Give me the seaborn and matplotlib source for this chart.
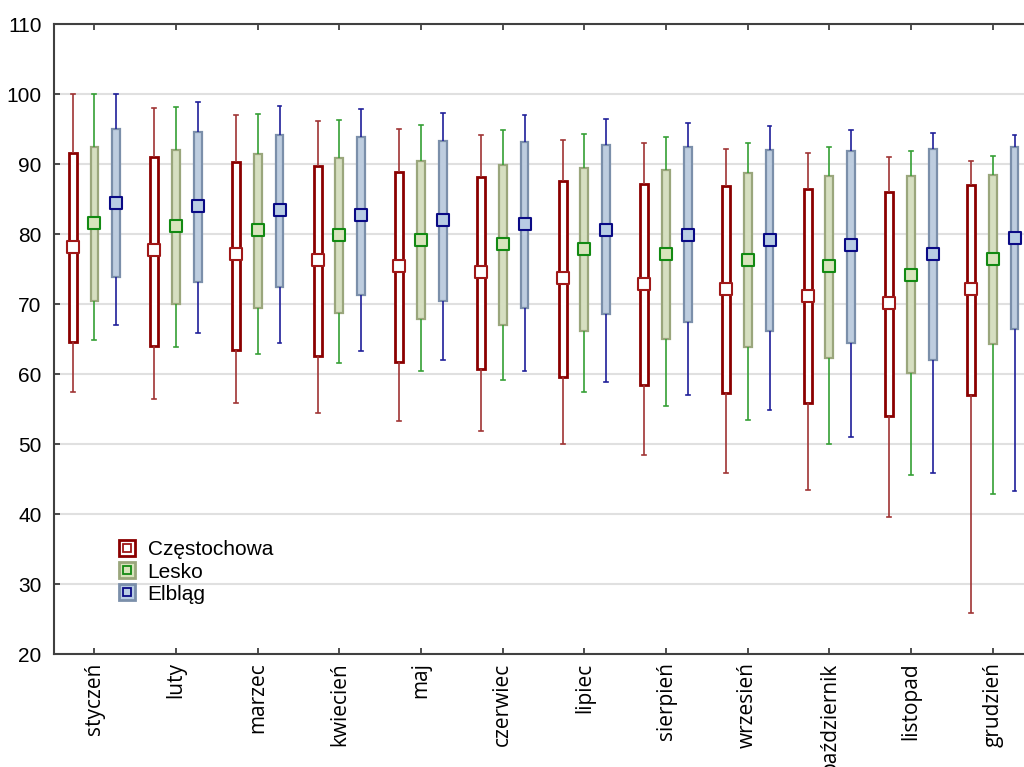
import numpy as np
import pandas as pd
import matplotlib
matplotlib.use("Agg")
import matplotlib.pyplot as plt
import seaborn as sns
from matplotlib.lines import Line2D
from matplotlib.legend_handler import HandlerTuple

months = ["styczeń", "luty", "marzec", "kwiecień", "maj", "czerwiec",
          "lipiec", "sierpień", "wrzesień", "październik", "listopad", "grudzień"]
cities = ["Częstochowa", "Lesko", "Elbląg"]

cz_max = [100, 98.0, 97.0, 96.1, 95.0, 94.1, 93.5, 93.0, 92.1, 91.6, 91.0, 90.4]
cz_hi = [91.6, 91.0, 90.3, 89.7, 88.9, 88.2, 87.6, 87.1, 86.8, 86.5, 86.0, 87.0]
cz_mean = [78.2, 77.7, 77.1, 76.3, 75.4, 74.6, 73.7, 72.9, 72.2, 71.2, 70.1, 72.2]
cz_lo = [64.6, 64.0, 63.4, 62.6, 61.7, 60.7, 59.6, 58.5, 57.3, 55.8, 54.0, 57.0]
cz_min = [57.5, 56.5, 55.8, 54.5, 53.3, 51.8, 50.0, 48.4, 45.8, 43.5, 39.6, 25.8]

le_max = [100, 98.1, 97.1, 96.3, 95.6, 94.9, 94.3, 93.8, 93.0, 92.4, 91.9, 91.1]
le_hi = [92.5, 92.0, 91.4, 90.9, 90.5, 89.9, 89.5, 89.1, 88.7, 88.3, 88.3, 88.4]
le_mean = [81.6, 81.2, 80.6, 79.9, 79.1, 78.6, 77.8, 77.1, 76.3, 75.4, 74.2, 76.5]
le_lo = [70.5, 70.0, 69.4, 68.7, 67.9, 67.0, 66.1, 65.0, 63.8, 62.3, 60.1, 64.3]
le_min = [64.8, 63.9, 62.9, 61.6, 60.4, 59.1, 57.5, 55.5, 53.4, 50.0, 45.6, 42.9]

el_max = [100, 98.9, 98.3, 97.8, 97.3, 97.0, 96.4, 95.9, 95.4, 94.9, 94.5, 94.1]
el_hi = [95.0, 94.6, 94.2, 93.8, 93.3, 93.1, 92.7, 92.4, 92.0, 91.9, 92.1, 92.4]
el_mean = [84.4, 84.0, 83.5, 82.7, 82.0, 81.4, 80.6, 79.9, 79.1, 78.4, 77.1, 79.5]
el_lo = [73.8, 73.1, 72.4, 71.3, 70.4, 69.4, 68.6, 67.4, 66.2, 64.5, 62.0, 66.5]
el_min = [67.0, 65.9, 64.5, 63.3, 62.0, 60.4, 58.9, 57.0, 54.8, 51.0, 45.9, 43.3]

y_ticks = [20, 30, 40, 50, 60, 70, 80, 90, 100, 110]

stats = {
    "Częstochowa": (cz_min, cz_lo, cz_mean, cz_hi, cz_max),
    "Lesko": (le_min, le_lo, le_mean, le_hi, le_max),
    "Elbląg": (el_min, el_lo, el_mean, el_hi, el_max),
}

face = {"Częstochowa": "#ffffff", "Lesko": "#d8e4bc", "Elbląg": "#b8cce4"}
edge = {"Częstochowa": "#8b0000", "Lesko": "#9aa67c", "Elbląg": "#7b8faa"}
whisk = {"Częstochowa": "#a03434", "Lesko": "#35a035", "Elbląg": "#1f1f99"}
meanc = {"Częstochowa": "#a01818", "Lesko": "#138a13", "Elbląg": "#0a0a85"}
edge_lw = {"Częstochowa": 2.0, "Lesko": 1.6, "Elbląg": 1.6}

# Five-number rows per box: min, lower box edge, mean, upper box edge, max
rows = []
mean_rows = []
for c in cities:
    mn, lo, me, hi, mx = stats[c]
    for i, m in enumerate(months):
        for v in (mn[i], lo[i], me[i], hi[i], mx[i]):
            rows.append({"month": m, "city": c, "value": v})
        mean_rows.append({"month": m, "city": c, "value": me[i]})
df = pd.DataFrame(rows)
dfm = pd.DataFrame(mean_rows)

fig = plt.figure(figsize=(10.24, 7.67), dpi=100)
ax = fig.add_axes([54 / 1024, 1 - 654 / 767, (1045 - 54) / 1024, (654 - 24) / 767])

for c in cities:
    sns.boxplot(data=df[df.city == c], x="month", y="value", hue="city",
                order=months, hue_order=cities, palette=face, dodge=True,
                width=0.8, gap=0.64, whis=(0, 100), linecolor=edge[c],
                linewidth=edge_lw[c], legend=False, ax=ax,
                whiskerprops=dict(color=whisk[c], linewidth=1.2),
                capprops=dict(color=whisk[c], linewidth=1.2),
                medianprops=dict(linewidth=0, alpha=0),
                showfliers=False)

for c in cities:
    sns.stripplot(data=dfm[dfm.city == c], x="month", y="value", hue="city",
                  order=months, hue_order=cities, palette=face, dodge=True,
                  jitter=False, marker="s", size=8.5, edgecolor=meanc[c],
                  linewidth=1.5, legend=False, ax=ax, zorder=5)

ax.set_xlim(-0.495, 11.64)
ax.set_ylim(20, 110)
ax.set_yticks(y_ticks)
ax.set_yticklabels([str(t) for t in y_ticks], fontsize=15, fontfamily="Liberation Sans")
ax.set_xticks(range(len(months)))
ax.set_xticklabels(months, rotation=90, fontsize=15, fontfamily="Open Sans")
ax.set_xlabel("")
ax.set_ylabel("")
ax.grid(axis="y", color="#e0e0e0", linewidth=1.5, zorder=0)
ax.set_axisbelow(True)
for s in ["left", "bottom", "top"]:
    ax.spines[s].set_color("#404040")
    ax.spines[s].set_linewidth(1.5)
ax.spines["right"].set_visible(False)
ax.tick_params(axis="both", direction="in", length=4, width=1.2, color="#303030",
               top=True, labeltop=False)
ax.tick_params(axis="y", pad=9)
ax.tick_params(axis="x", pad=6)

handles = []
for c in cities:
    outer = Line2D([], [], marker="s", markersize=12, markerfacecolor=face[c],
                   markeredgecolor=edge[c], markeredgewidth=2.0, linestyle="none")
    inner = Line2D([], [], marker="s", markersize=6, markerfacecolor="none",
                   markeredgecolor=meanc[c], markeredgewidth=1.3, linestyle="none")
    handles.append((outer, inner))
fig.legend(handles, cities, handler_map={tuple: HandlerTuple(ndivide=1, pad=0)},
           loc="upper left", bbox_to_anchor=(106 / 1024, 1 - 530 / 767),
           frameon=False, prop={"family": "Liberation Sans", "size": 15},
           handlelength=1.0, handletextpad=0.5, labelspacing=0.15, borderpad=0)

fig.savefig("out.png", dpi=100)
